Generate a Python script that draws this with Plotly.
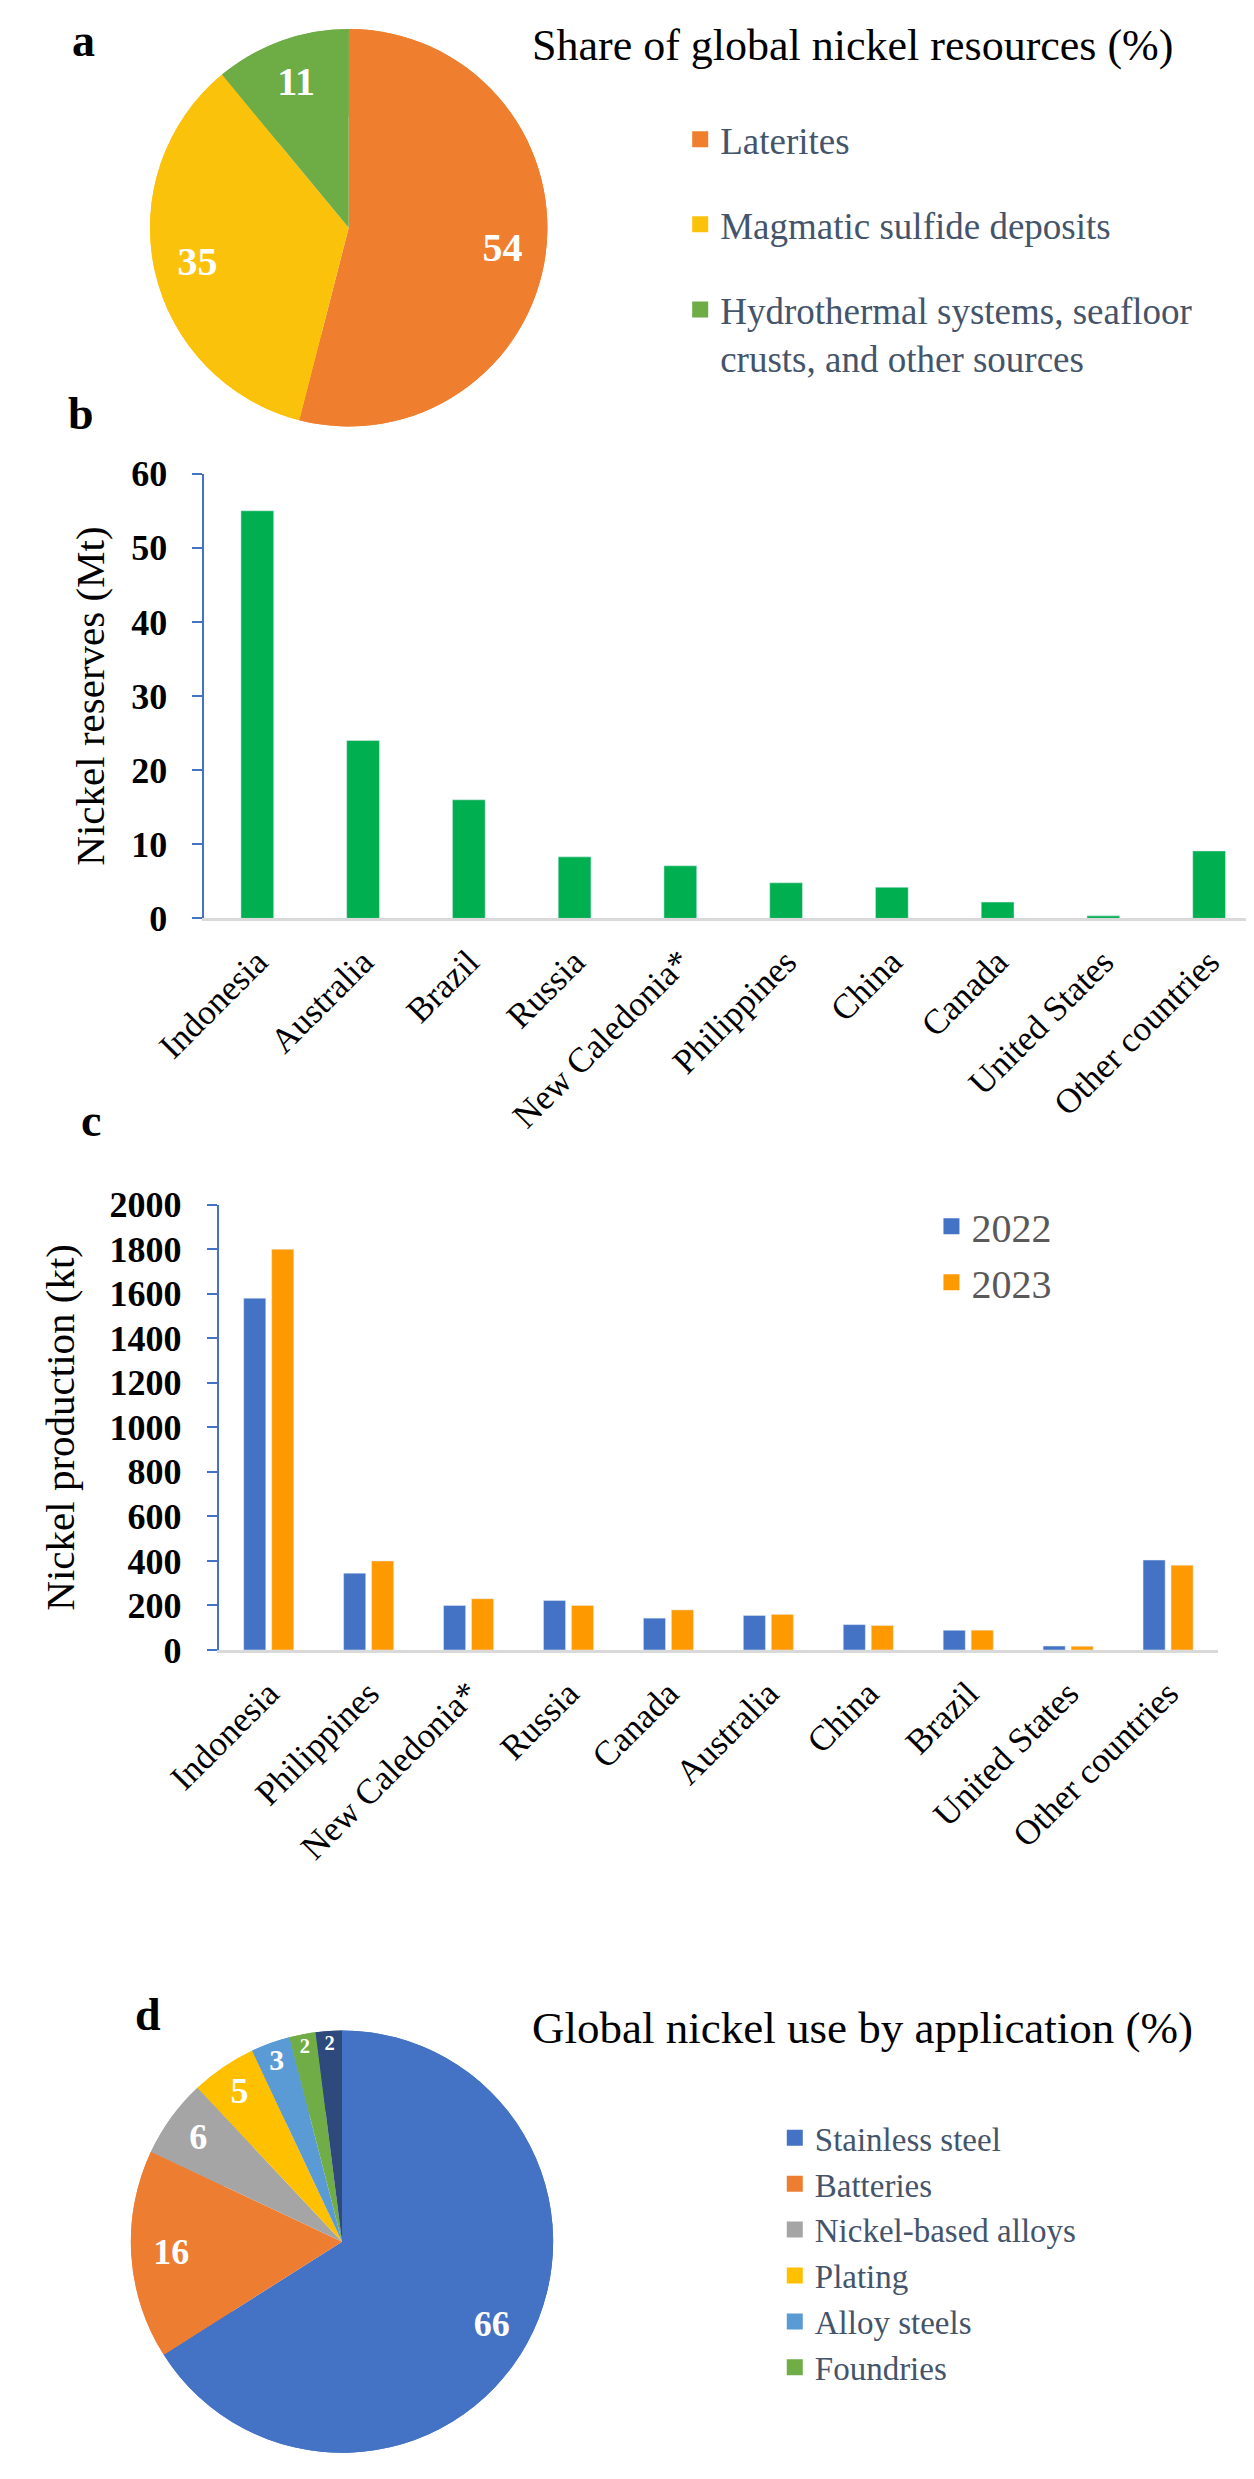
import plotly.graph_objects as go

# a: share of global nickel resources (%)
resource_labels = ["Laterites", "Magmatic sulfide deposits",
                   "Hydrothermal systems, seafloor<br>crusts, and other sources"]
resource_share = [54, 35, 11]
resource_colors = ["#F07E2F", "#FBC20C", "#6EAC46"]

# b: nickel reserves (Mt)
reserve_countries = ["Indonesia", "Australia", "Brazil", "Russia", "New Caledonia*",
                     "Philippines", "China", "Canada", "United States", "Other countries"]
reserves_mt = [55, 24, 16, 8.3, 7.1, 4.8, 4.2, 2.2, 0.34, 9.1]

# c: nickel production (kt)
prod_countries = ["Indonesia", "Philippines", "New Caledonia*", "Russia", "Canada",
                  "Australia", "China", "Brazil", "United States", "Other countries"]
prod_2022 = [1580, 345, 200, 222, 143, 155, 114, 88.5, 17.5, 404]
prod_2023 = [1800, 400, 230, 200, 180, 160, 110, 89, 17, 381]
prod_years = ["2022", "2023"]
prod_colors = ["#4472C4", "#FF9900"]

# d: global nickel use by application (%)
use_labels = ["Stainless steel", "Batteries", "Nickel-based alloys", "Plating",
              "Alloy steels", "Foundries", "Other"]
use_share = [66, 16, 6, 5, 3, 2, 2]
use_colors = ["#4472C4", "#ED7D31", "#A5A5A5", "#FFC000", "#5B9BD5", "#70AD47", "#2E4A7D"]
use_legend_count = 6  # last slice is not listed in the legend

W, H = 1254, 2479
OFF = 8  # the page body margin shifts the figure by 8px
SERIF = "Liberation Serif"


def px_x(v):
    return (v - OFF) / W


def px_y(v):
    return min(1.0, max(0.0, 1 - (v - OFF) / H))


fig = go.Figure()


def add_pie(labels, values, colors, domain, hole, size):
    # full pie underneath, then a ring on top that carries the labels further out
    common = dict(labels=labels, values=values, sort=False, direction="clockwise",
                  rotation=0, marker=dict(colors=colors, line=dict(width=0)),
                  domain=domain, showlegend=False, hoverinfo="label+value")
    fig.add_trace(go.Pie(textinfo="none", **common))
    fig.add_trace(go.Pie(
        hole=hole, textinfo="value", textposition="inside",
        insidetextorientation="horizontal",
        textfont=dict(family=SERIF, size=size, color="white", weight="bold"),
        **common))


add_pie(resource_labels, resource_share, resource_colors,
        dict(x=[px_x(98), px_x(514)], y=[px_y(416), px_y(0)]), 0.56, 40)

fig.add_trace(go.Bar(
    x=reserve_countries, y=reserves_mt, marker_color="#00B050", width=0.31,
    xaxis="x", yaxis="y", showlegend=False,
))

for name, vals, col in zip(prod_years, [prod_2022, prod_2023], prod_colors):
    fig.add_trace(go.Bar(
        x=prod_countries, y=vals, name=name, marker_color=col,
        xaxis="x2", yaxis="y2", showlegend=False,
    ))

add_pie(use_labels, use_share, use_colors,
        dict(x=[px_x(78), px_x(520)], y=[px_y(2480), px_y(2038)]), 0.62, 36)


# legend entries (square swatches) on a hidden axis pair
def swatch(name, color, legend):
    fig.add_trace(go.Scatter(
        x=[None], y=[None], mode="markers", name=name, legend=legend, legendgroup=name,
        marker=dict(symbol="square", size=16, color=color, line=dict(width=0)),
        xaxis="x3", yaxis="y3", hoverinfo="skip",
    ))


for lab, col in zip(resource_labels, resource_colors):
    swatch(lab, col, "legend")
for lab, col in zip(prod_years, prod_colors):
    swatch(lab, col, "legend2")
for lab, col in zip(use_labels[:use_legend_count], use_colors[:use_legend_count]):
    swatch(lab, col, "legend3")

tick_font = dict(family=SERIF, size=36, color="black", weight="bold")
cat_font = dict(family=SERIF, size=35, color="black")
yaxis_common = dict(
    showgrid=False, zeroline=False, showline=True, linecolor="#4472C4", linewidth=2,
    ticks="outside", ticklen=10, tickwidth=2, tickcolor="#4472C4",
    tickfont=tick_font, ticklabelstandoff=18,
)
xaxis_common = dict(
    showgrid=False, zeroline=False, showline=True, linecolor="#D9D9D9", linewidth=3,
    ticks="", tickangle=-45, tickfont=cat_font, ticklabelstandoff=6,
)

fig.update_layout(
    width=W, height=H, margin=dict(l=0, r=0, t=0, b=0),
    paper_bgcolor="white", plot_bgcolor="white",
    font=dict(family=SERIF, color="black"),
    bargap=0.44, bargroupgap=0.21, barmode="group",
    xaxis=dict(domain=[px_x(155), 1.0], anchor="y", **xaxis_common),
    yaxis=dict(domain=[px_y(914), px_y(462)], anchor="x", range=[0, 60], dtick=10,
               title=dict(text="Nickel reserves (Mt)", font=dict(family=SERIF, size=41),
                          standoff=14),
               **yaxis_common),
    xaxis2=dict(domain=[px_x(170), px_x(1216)], anchor="y2", **xaxis_common),
    yaxis2=dict(domain=[px_y(1657.6), px_y(1205)], anchor="x2", range=[0, 2000], dtick=200,
                title=dict(text="Nickel production (kt)", font=dict(family=SERIF, size=41),
                           standoff=22),
                **yaxis_common),
    xaxis3=dict(domain=[0, 0.01], anchor="y3", visible=False),
    yaxis3=dict(domain=[0, 0.01], anchor="x3", visible=False),
    legend=dict(x=px_x(653), y=px_y(91), xanchor="left", yanchor="top",
                traceorder="grouped", tracegroupgap=34, valign="top",
                font=dict(family=SERIF, size=37, color="#44546A"), bgcolor="rgba(0,0,0,0)"),
    legend2=dict(x=px_x(916), y=px_y(1194), xanchor="left", yanchor="top",
                 traceorder="grouped", tracegroupgap=1,
                 font=dict(family=SERIF, size=40, color="#595959"), bgcolor="rgba(0,0,0,0)"),
    legend3=dict(x=px_x(752), y=px_y(2125), xanchor="left", yanchor="top",
                 traceorder="grouped", tracegroupgap=0,
                 font=dict(family=SERIF, size=33, color="#44546A"), bgcolor="rgba(0,0,0,0)"),
)

notes = [
    ("a", 14, 22, 46, "bold"),
    ("b", 10, 401, 46, "bold"),
    ("c", 24, 1119, 46, "bold"),
    ("d", 80, 2028, 46, "bold"),
    ("Share of global nickel resources (%)", 496, 27, 44, "normal"),
    ("Global nickel use by application (%)", 496, 2042, 45, "normal"),
]
for text, x, y, size, weight in notes:
    fig.add_annotation(text=text, x=px_x(x), y=px_y(y), xref="paper", yref="paper",
                       xanchor="left", yanchor="middle", showarrow=False,
                       font=dict(family=SERIF, size=size, color="black", weight=weight))

fig.write_html("out.html")
